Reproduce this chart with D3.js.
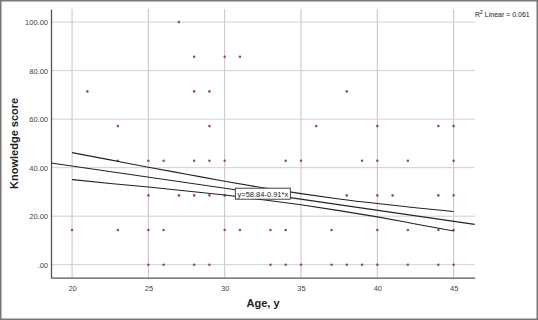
<!DOCTYPE html>
<html>
<head>
<meta charset="utf-8">
<script src="https://cdn.jsdelivr.net/npm/d3@7/dist/d3.min.js"></script>
<style>
  body { margin: 0; background: #fff; }
  svg { display: block; font-family: "Liberation Sans", Arial, sans-serif; }
  .tick-label { font-size: 7.5px; fill: #444; }
  .axis-title { font-size: 11px; font-weight: bold; fill: #222; }
</style>
</head>
<body>
<div id="chart"></div>
<script>
const width = 538, height = 320;

// scores are the 8 possible levels (k/7 * 100)
const scoreLevels = [100, 85.71, 71.43, 57.14, 42.86, 28.57, 14.29, 0];
const agesAtLevel = [
  [27],
  [28, 30, 31],
  [21, 28, 29, 38],
  [23, 29, 36, 40, 44, 45],
  [23, 25, 26, 28, 29, 30, 34, 35, 39, 40, 42, 45],
  [25, 27, 28, 29, 30, 38, 40, 41, 44, 45],
  [20, 23, 25, 26, 30, 31, 33, 34, 37, 40, 42, 44, 45],
  [25, 26, 28, 29, 33, 34, 35, 37, 38, 39, 40, 42, 44, 45]
];

// fit line y = 58.84 - 0.91x and its 95% mean band
const fitIntercept = 58.84, fitSlope = -0.91;
const bandAges = [20, 22.5, 25, 27.5, 30, 32.5, 35, 37.5, 40, 42.5, 45];
const bandUpper = [46.2, 43.2, 40.2, 37.3, 34.4, 31.7, 29.3, 27.1, 25.2, 23.5, 21.9];
const bandLower = [35.1, 33.5, 32.0, 30.4, 28.7, 26.8, 24.7, 22.3, 19.7, 16.8, 13.9];

const xTicks = [20, 25, 30, 35, 40, 45];
const yTicks = [0, 20, 40, 60, 80, 100];
const yTickLabels = [".00", "20.00", "40.00", "60.00", "80.00", "100.00"];

const points = [];
scoreLevels.forEach((s, i) => agesAtLevel[i].forEach(a => points.push({ age: a, score: s })));

const plot = { left: 51, right: 474.7, top: 9, bottom: 277.7 };

const x = d3.scaleLinear().domain([18.62, 46.38]).range([plot.left, plot.right]);
const y = d3.scaleLinear().domain([-5.36, 105.4]).range([plot.bottom, plot.top]);

const svg = d3.select("#chart").append("svg")
  .attr("width", width).attr("height", height);

svg.append("rect").attr("width", width).attr("height", height).attr("fill", "#fff");

// grid
const grid = svg.append("g").attr("class", "grid");
grid.selectAll("line.v").data(xTicks).join("line")
  .attr("class", "v")
  .attr("x1", d => x(d)).attr("x2", d => x(d))
  .attr("y1", plot.top).attr("y2", plot.bottom)
  .attr("stroke", "#cbbfc4").attr("stroke-width", 1);
grid.selectAll("line.h").data(yTicks).join("line")
  .attr("class", "h")
  .attr("x1", plot.left).attr("x2", plot.right)
  .attr("y1", d => y(d)).attr("y2", d => y(d))
  .attr("stroke", "#cfcfcf").attr("stroke-width", 1);

// axes
const xAxis = svg.append("g")
  .attr("transform", `translate(0,${plot.bottom})`)
  .call(d3.axisBottom(x).tickValues(xTicks).tickSize(0).tickPadding(8));
const yAxis = svg.append("g")
  .attr("transform", `translate(${plot.left},0)`)
  .call(d3.axisLeft(y).tickValues(yTicks).tickSize(0).tickPadding(3)
    .tickFormat((d, i) => yTickLabels[i]));
[xAxis, yAxis].forEach(ax => {
  ax.select(".domain").attr("stroke", "#555").attr("stroke-width", 1.3);
  ax.selectAll("text").attr("class", "tick-label").attr("font-family", null).attr("font-size", null).attr("fill", null);
});

// points
svg.append("g").selectAll("circle").data(points).join("circle")
  .attr("cx", d => x(d.age))
  .attr("cy", d => y(d.score))
  .attr("r", 1.3)
  .attr("fill", "#a04a62");

// fit line across full plot width
const xd = x.domain();
svg.append("line")
  .attr("x1", x(xd[0])).attr("y1", y(fitIntercept + fitSlope * xd[0]))
  .attr("x2", x(xd[1])).attr("y2", y(fitIntercept + fitSlope * xd[1]))
  .attr("stroke", "#222").attr("stroke-width", 1.1);

// confidence band
const bandLine = d3.line().curve(d3.curveMonotoneX).x(d => x(d[0])).y(d => y(d[1]));
[bandUpper, bandLower].forEach(b => {
  svg.append("path")
    .datum(bandAges.map((a, i) => [a, b[i]]))
    .attr("d", bandLine)
    .attr("fill", "none").attr("stroke", "#222").attr("stroke-width", 1.1);
});

// equation label on the line
const labelAge = 32.5;
const lx = x(labelAge), ly = y(fitIntercept + fitSlope * labelAge);
svg.append("rect")
  .attr("x", lx - 27.5).attr("y", ly - 5.5).attr("width", 55).attr("height", 11)
  .attr("fill", "#fff").attr("stroke", "#333").attr("stroke-width", 0.9);
svg.append("text")
  .attr("x", lx).attr("y", ly + 3)
  .attr("text-anchor", "middle").attr("font-size", 7.5).attr("fill", "#222")
  .text("y=58.84-0.91*x");

// R² annotation
const r2 = svg.append("text").attr("x", 475).attr("y", 17).attr("font-size", 7).attr("fill", "#222");
r2.append("tspan").text("R");
r2.append("tspan").attr("dy", -3).attr("font-size", 5).text("2");
r2.append("tspan").attr("dy", 3).text(" Linear = 0.061");

// axis titles
svg.append("text").attr("class", "axis-title")
  .attr("x", 263).attr("y", 307).attr("text-anchor", "middle")
  .text("Age, y");
svg.append("text").attr("class", "axis-title")
  .attr("transform", `translate(17.5,${(plot.top + plot.bottom) / 2}) rotate(-90)`)
  .attr("text-anchor", "middle")
  .text("Knowledge score");

// outer frame
svg.append("rect")
  .attr("x", 0.75).attr("y", 0.75).attr("width", width - 1.5).attr("height", height - 1.5)
  .attr("fill", "none").attr("stroke", "#777").attr("stroke-width", 1.5);
</script>
</body>
</html>
